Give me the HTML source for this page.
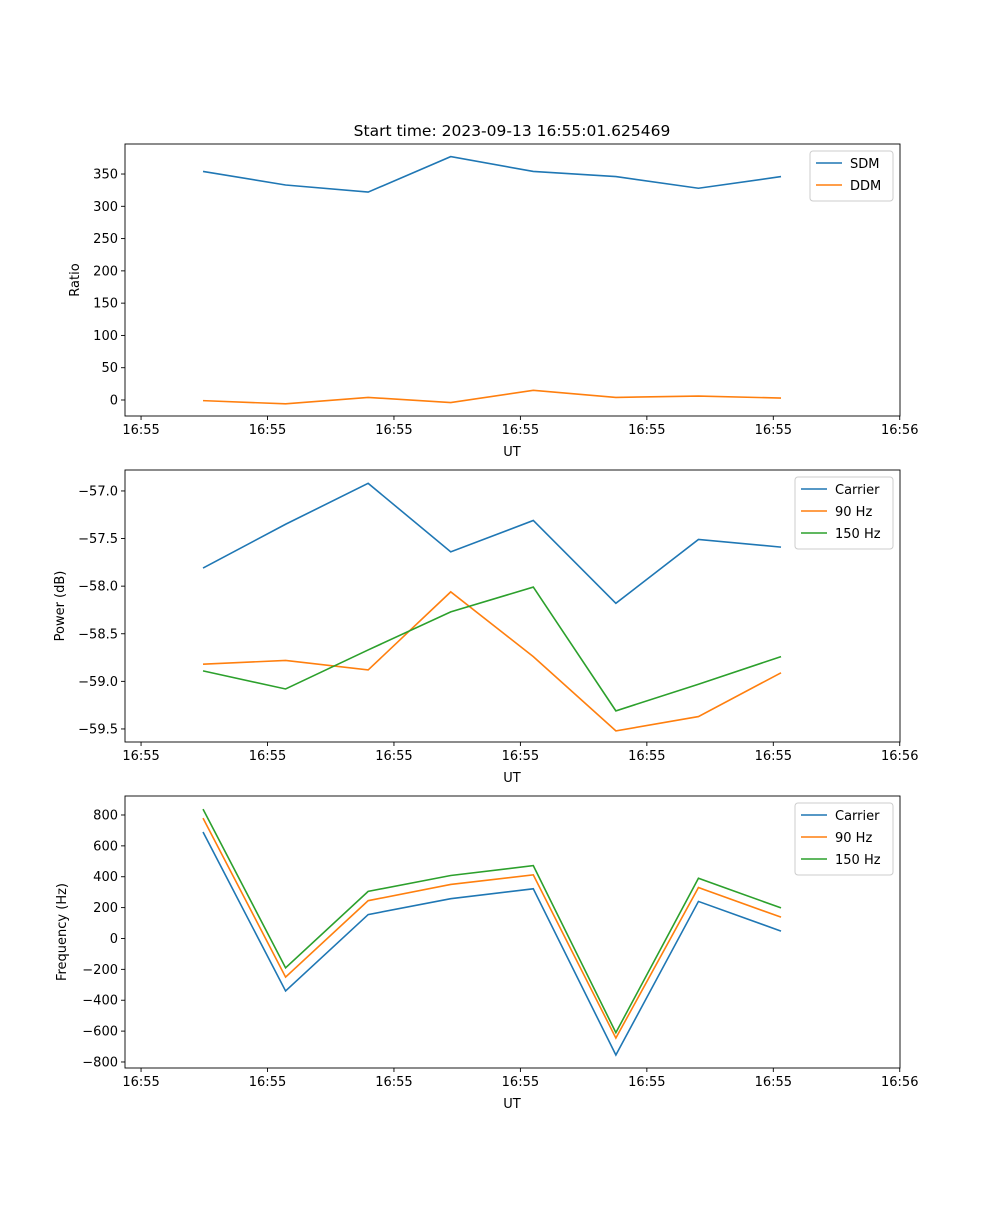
<!DOCTYPE html>
<html><head><meta charset="utf-8"><style>
body{margin:0;background:#fff;font-family:"Liberation Sans","DejaVu Sans",sans-serif}
svg text{font-family:"DejaVu Sans","Liberation Sans",sans-serif;font-size:13px;fill:#000}
</style></head><body>
<svg id="fig" width="1000" height="1200">
<rect width="1000" height="1200" fill="#fff"/>
<text x="512" y="136" text-anchor="middle" style="font-size:15.5px">Start time: 2023-09-13 16:55:01.625469</text>
</svg>
<script>
const times=[1.625,2.278,2.931,3.584,4.237,4.890,5.543,6.196];
const tickTimes=[1.135,2.135,3.135,4.135,5.135,6.135,7.135];
const tickLabels=["16:55","16:55","16:55","16:55","16:55","16:55","16:56"];
const sdm=[354,333,322,377,354,346,328,346];
const ddm=[-1,-6,4,-4,15,4,6,3];
const pCarrier=[-57.81,-57.35,-56.92,-57.64,-57.31,-58.18,-57.51,-57.59];
const p90=[-58.82,-58.78,-58.88,-58.06,-58.74,-59.52,-59.37,-58.91];
const p150=[-58.89,-59.08,-58.67,-58.27,-58.01,-59.31,-59.03,-58.74];
const fCarrier=[690,-340,155,258,322,-755,240,48];
const f90=[780,-250,245,350,412,-645,330,138];
const f150=[838,-190,305,408,472,-610,390,198];
const ratioTicks=[0,50,100,150,200,250,300,350];
const powerTicks=[-59.5,-59.0,-58.5,-58.0,-57.5,-57.0];
const freqTicks=[-800,-600,-400,-200,0,200,400,600,800];

const NS="http://www.w3.org/2000/svg";
const svg=document.getElementById('fig');
const X0=125,X1=900,T0=1.008,T1=7.137;
const xs=t=>X0+(t-T0)/(T1-T0)*(X1-X0);
function mk(tag,attrs,parent){const e=document.createElementNS(NS,tag);for(const k in attrs)e.setAttribute(k,attrs[k]);(parent||svg).appendChild(e);return e;}
const C={b:'#1f77b4',o:'#ff7f0e',g:'#2ca02c'};
function panel(id,top,bot,ymin,ymax,yticks,fmt,ylabel,ylx,series,legend){
  const g=mk('g',{});
  
  
  const ys=v=>bot-(v-ymin)/(ymax-ymin)*(bot-top);
  series.forEach(s=>{
    const pts=s.vals.map((v,i)=>xs(times[i]).toFixed(2)+','+ys(v).toFixed(2)).join(' ');
    const pl=mk('polyline',{points:pts,fill:'none',stroke:s.c,'stroke-width':1.6},g);
    
    
  });
  mk('rect',{x:X0,y:top,width:X1-X0,height:bot-top,fill:'none',stroke:'#000','stroke-width':0.9},g);
  tickTimes.forEach((t,i)=>{
    const x=xs(t);
    mk('line',{x1:x,x2:x,y1:bot,y2:bot+4,stroke:'#000','stroke-width':0.9},g);
    const tx=mk('text',{x:x,y:bot+18,'text-anchor':'middle'},g);tx.textContent=tickLabels[i];
    
    
  });
  yticks.forEach(v=>{
    const y=ys(v);
    mk('line',{x1:X0-4,x2:X0,y1:y,y2:y,stroke:'#000','stroke-width':0.9},g);
    const tx=mk('text',{x:X0-7,y:y+4.5,'text-anchor':'end'},g);tx.textContent=fmt(v);
    
    
  });
  const xl=mk('text',{x:512,y:bot+40,'text-anchor':'middle'},g);xl.textContent='UT';
  
  
  const yl=mk('text',{x:ylx,y:(top+bot)/2,'text-anchor':'middle',transform:`rotate(-90 ${ylx} ${(top+bot)/2})`},g);yl.textContent=ylabel;
  
  
  const lg=mk('g',{},g);
  
  
  mk('rect',{x:legend.x,y:top+7,width:legend.w,height:series.length*22+6,rx:3,fill:'#fff',stroke:'#ccc'},lg);
  series.forEach((s,i)=>{
    const y=top+19+i*22;
    mk('line',{x1:legend.x+6,x2:legend.x+32,y1:y,y2:y,stroke:s.c,'stroke-width':1.6},lg);
    const t=mk('text',{x:legend.x+40,y:y+5},lg);t.textContent=s.name;
    
    
  });
}
panel('ratio',144,416,-24.8,396.5,ratioTicks,v=>String(v),'Ratio',79,
  [{key:'sdm',name:'SDM',vals:sdm,c:C.b},{key:'ddm',name:'DDM',vals:ddm,c:C.o}],{x:810,w:83});
panel('power',470,742,-59.637,-56.78,powerTicks,v=>'\u2212'+Math.abs(v).toFixed(1),'Power (dB)',64,
  [{key:'carrier',name:'Carrier',vals:pCarrier,c:C.b},{key:'90hz',name:'90 Hz',vals:p90,c:C.o},{key:'150hz',name:'150 Hz',vals:p150,c:C.g}],{x:795,w:98});
panel('frequency',796,1068,-839,923,freqTicks,v=>v<0?'\u2212'+Math.abs(v):String(v),'Frequency (Hz)',66,
  [{key:'carrier',name:'Carrier',vals:fCarrier,c:C.b},{key:'90hz',name:'90 Hz',vals:f90,c:C.o},{key:'150hz',name:'150 Hz',vals:f150,c:C.g}],{x:795,w:98});
</script>
</body></html>
